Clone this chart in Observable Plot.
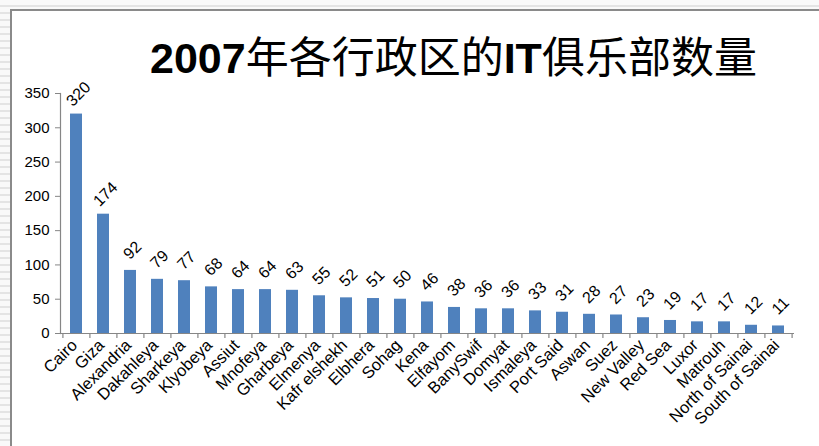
<!DOCTYPE html>
<html>
<head>
<meta charset="utf-8">
<script src="https://cdn.jsdelivr.net/npm/d3@7"></script>
<script src="https://cdn.jsdelivr.net/npm/@observablehq/plot@0.6"></script>
<style>
  html, body { margin: 0; padding: 0; }
  body { width: 819px; height: 446px; overflow: hidden;
    background: repeating-linear-gradient(to bottom, #f9f9f9 0px, #f9f9f9 5px, #e4e4e4 5px, #e4e4e4 7px); }
  #frame { position: absolute; left: 10px; top: 9px; width: 820px; height: 450px;
    background: #fff; border-left: 2px solid #8a8a8a; border-top: 2px solid #8a8a8a; box-sizing: border-box; }
  #wrap { position: absolute; left: 0; top: 0; width: 819px; }
  #title { height: 78px; position: relative; }
  #title span.t { position: absolute; left: 150px; top: 29px; font-size: 43px; line-height: 50px; white-space: nowrap;
    font-family: "Noto Sans CJK SC", sans-serif; color: #000; }
  #title b { font-family: "Liberation Sans", Arial, sans-serif; font-weight: bold; }
</style>
</head>
<body>
<div id="frame"></div>
<div id="wrap">
  <div id="title"><span class="t"><b>2007</b>年各行政区的<b>IT</b>俱乐部数量</span></div>
  <div id="chart"></div>
</div>
<script>
const regions = ["Cairo","Giza","Alexandria","Dakahleya","Sharkeya","Klyobeya","Assiut","Mnofeya","Gharbeya","Elmenya","Kafr elshekh","Elbhera","Sohag","Kena","Elfayom","BanySwif","Domyat","Ismaleya","Port Said","Aswan","Suez","New Valley","Red Sea","Luxor","Matrouh","North of Sainai","South of Sainai"];
const clubs = [320,174,92,79,77,68,64,64,63,55,52,51,50,46,38,36,36,33,31,28,27,23,19,17,17,12,11];
const yTicks = [0,50,100,150,200,250,300,350];

const data = regions.map((r, i) => ({region: r, value: clubs[i]}));

const W = 819, H = 368, mL = 60, mR = 25, mT = 15, mB = 113;
const step = (W - mL - mR) / regions.length;
const axisGray = "#868686";

const chart = Plot.plot({
  width: W, height: H,
  marginLeft: mL, marginRight: mR, marginTop: mT, marginBottom: mB,
  style: {fontFamily: "'Liberation Sans', Arial, sans-serif", fontSize: "15px", color: "#000", background: "transparent", overflow: "visible"},
  x: {domain: regions, paddingInner: 0.56, paddingOuter: 0.28, label: null},
  y: {domain: [0, 350], ticks: yTicks, label: null},
  marks: [
    Plot.barY(data, {x: "region", y: "value", fill: "#4F81BD"}),
    Plot.ruleY([0], {stroke: axisGray, strokeWidth: 1.2}),
    Plot.frame({anchor: "left", stroke: axisGray, strokeWidth: 1.2}),
    Plot.ruleX(regions, {x: d => d, y1: 0, y2: 0, dx: -step / 2, insetBottom: -5, stroke: axisGray, strokeWidth: 1.2}),
    Plot.ruleX(regions.slice(-1), {x: d => d, y1: 0, y2: 0, dx: step / 2, insetBottom: -5, stroke: axisGray, strokeWidth: 1.2}),
    Plot.axisY({ticks: yTicks, tickSize: 5, tickPadding: 6, stroke: axisGray, fontSize: 15, label: null}),
    Plot.axisX({tickSize: 0, tickRotate: -45, tickPadding: 9, dx: -2, fontSize: 16.5, label: null}),
    Plot.text(data, {x: "region", y: "value", text: d => String(d.value), rotate: -45, dy: -20, dx: 2,
      textAnchor: "middle", lineAnchor: "middle", fontSize: 16, fill: "#000"})
  ]
});
document.getElementById("chart").appendChild(chart);
</script>
</body>
</html>
